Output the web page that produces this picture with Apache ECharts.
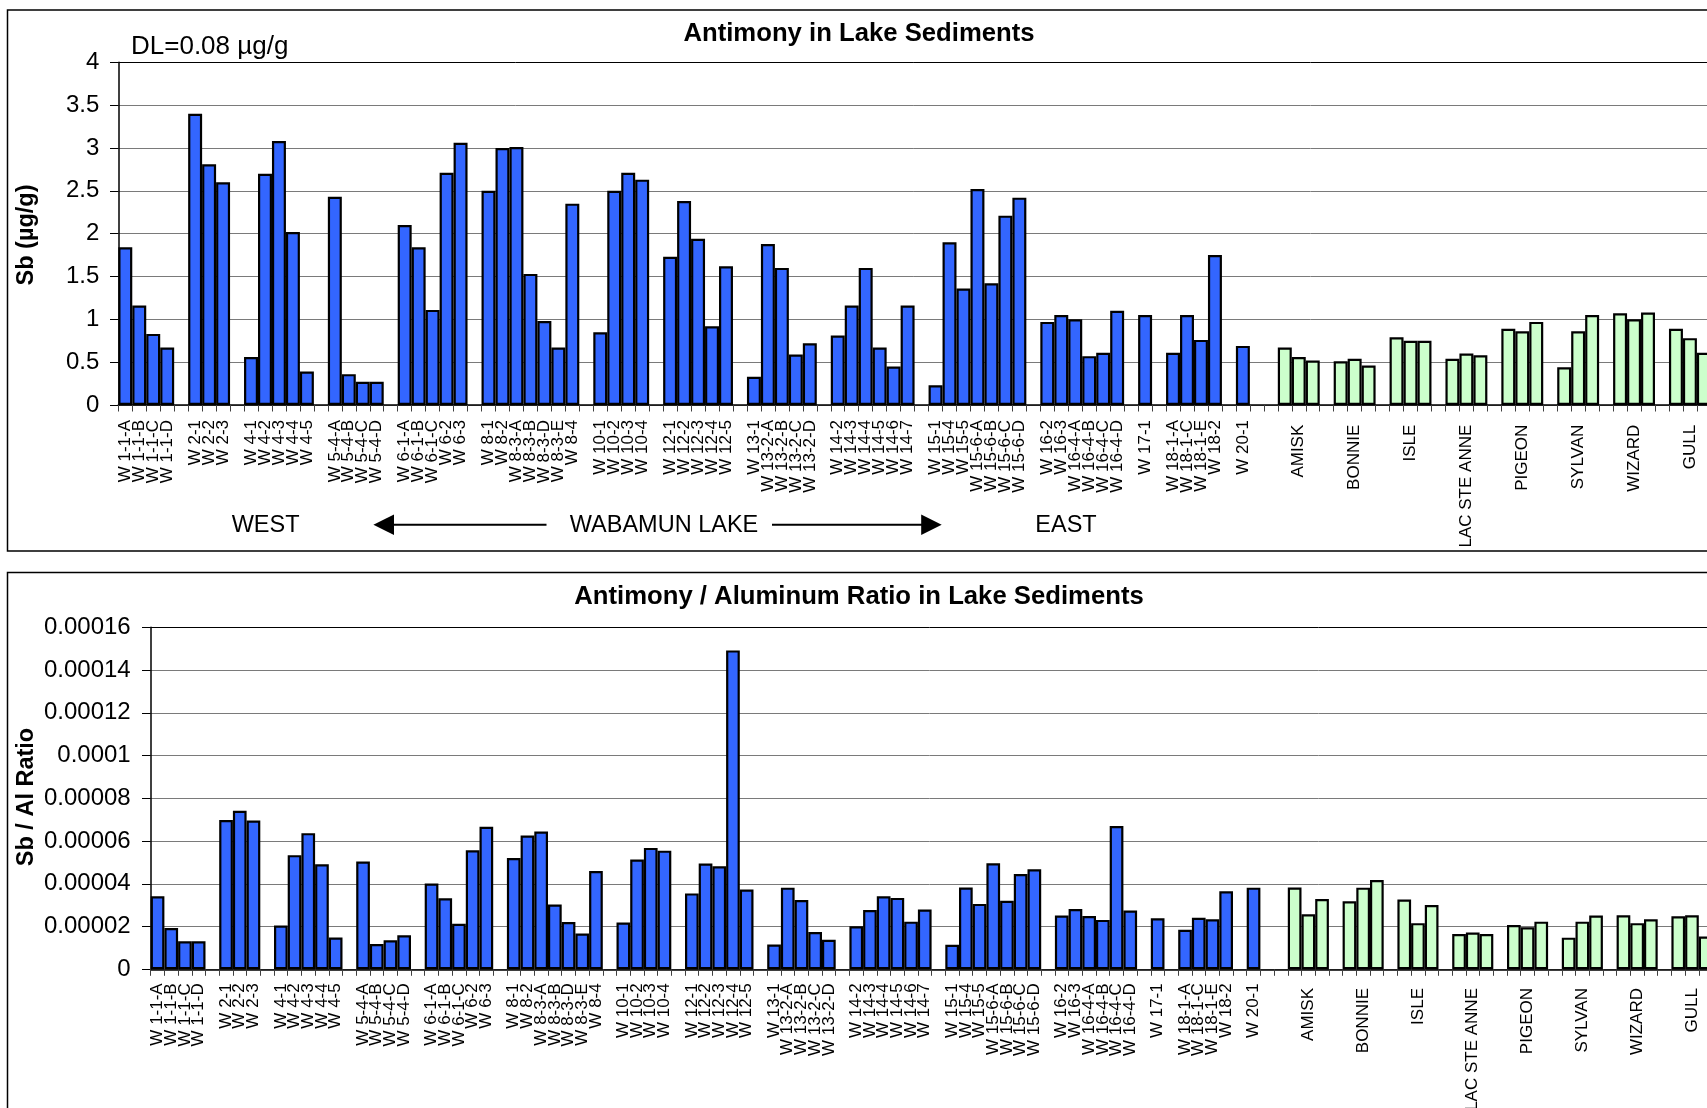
<!DOCTYPE html>
<html>
<head>
<meta charset="utf-8">
<title>Antimony in Lake Sediments</title>
<script src="https://cdn.jsdelivr.net/npm/echarts@6/dist/echarts.min.js"></script>
<style>
  html, body { margin: 0; padding: 0; background: #fff; overflow: hidden; }
  #chart { width: 1707px; height: 1108px; }
</style>
</head>
<body>
<div id="chart"></div>
<script>
// Wabamun Lake stations, west to east (one sub-array per station)
const siteGroups = [
  ['W 1-1-A', 'W 1-1-B', 'W 1-1-C', 'W 1-1-D'],
  ['W 2-1', 'W 2-2', 'W 2-3'],
  ['W 4-1', 'W 4-2', 'W 4-3', 'W 4-4', 'W 4-5'],
  ['W 5-4-A', 'W 5-4-B', 'W 5-4-C', 'W 5-4-D'],
  ['W 6-1-A', 'W 6-1-B', 'W 6-1-C', 'W 6-2', 'W 6-3'],
  ['W 8-1', 'W 8-2', 'W 8-3-A', 'W 8-3-B', 'W 8-3-D', 'W 8-3-E', 'W 8-4'],
  ['W 10-1', 'W 10-2', 'W 10-3', 'W 10-4'],
  ['W 12-1', 'W 12-2', 'W 12-3', 'W 12-4', 'W 12-5'],
  ['W 13-1', 'W 13-2-A', 'W 13-2-B', 'W 13-2-C', 'W 13-2-D'],
  ['W 14-2', 'W 14-3', 'W 14-4', 'W 14-5', 'W 14-6', 'W 14-7'],
  ['W 15-1', 'W 15-4', 'W 15-5', 'W 15-6-A', 'W 15-6-B', 'W 15-6-C', 'W 15-6-D'],
  ['W 16-2', 'W 16-3', 'W 16-4-A', 'W 16-4-B', 'W 16-4-C', 'W 16-4-D'],
  ['W 17-1'],
  ['W 18-1-A', 'W 18-1-C', 'W 18-1-E', 'W 18-2'],
  ['W 20-1']
];

// Sb concentration (µg/g) at each Wabamun station
const sbSites = [
  [1.84, 1.16, 0.83, 0.67],
  [3.40, 2.81, 2.60],
  [0.56, 2.70, 3.08, 2.02, 0.39],
  [2.43, 0.36, 0.27, 0.27],
  [2.10, 1.84, 1.11, 2.71, 3.06],
  [2.50, 3.00, 3.01, 1.53, 0.98, 0.67, 2.35],
  [0.85, 2.50, 2.71, 2.63],
  [1.73, 2.38, 1.94, 0.92, 1.62],
  [0.33, 1.88, 1.60, 0.59, 0.72],
  [0.81, 1.16, 1.60, 0.67, 0.45, 1.16],
  [0.23, 1.90, 1.36, 2.52, 1.42, 2.21, 2.42],
  [0.97, 1.05, 1.00, 0.57, 0.61, 1.10],
  [1.05],
  [0.61, 1.05, 0.76, 1.75],
  [0.69]
];

// Sb / Al ratio at each Wabamun station
const ratioSites = [
  [3.42e-5, 1.93e-5, 1.31e-5, 1.31e-5],
  [6.98e-5, 7.42e-5, 6.96e-5],
  [2.05e-5, 5.34e-5, 6.37e-5, 4.91e-5, 1.49e-5],
  [5.04e-5, 1.18e-5, 1.36e-5, 1.59e-5],
  [4.01e-5, 3.32e-5, 2.13e-5, 5.57e-5, 6.67e-5],
  [5.21e-5, 6.26e-5, 6.45e-5, 3.03e-5, 2.21e-5, 1.67e-5, 4.60e-5],
  [2.19e-5, 5.14e-5, 5.68e-5, 5.55e-5],
  [3.55e-5, 4.95e-5, 4.82e-5, 14.92e-5, 3.73e-5],
  [1.16e-5, 3.82e-5, 3.24e-5, 1.74e-5, 1.38e-5],
  [2.01e-5, 2.77e-5, 3.42e-5, 3.34e-5, 2.23e-5, 2.80e-5],
  [1.15e-5, 3.83e-5, 3.06e-5, 4.96e-5, 3.21e-5, 4.46e-5, 4.68e-5],
  [2.52e-5, 2.82e-5, 2.49e-5, 2.31e-5, 6.70e-5, 2.75e-5],
  [2.39e-5],
  [1.85e-5, 2.41e-5, 2.34e-5, 3.65e-5],
  [3.82e-5]
];

// Reference lakes, three cores each
const lakeNames = ['AMISK', 'BONNIE', 'ISLE', 'LAC STE ANNE', 'PIGEON', 'SYLVAN', 'WIZARD', 'GULL'];

const sbLakes = [
  [0.67, 0.56, 0.52],
  [0.51, 0.54, 0.46],
  [0.79, 0.75, 0.75],
  [0.54, 0.60, 0.58],
  [0.89, 0.86, 0.97],
  [0.44, 0.86, 1.05],
  [1.07, 1.00, 1.08],
  [0.89, 0.78, 0.61]
];

const ratioLakes = [
  [3.83e-5, 2.57e-5, 3.29e-5],
  [3.18e-5, 3.82e-5, 4.18e-5],
  [3.26e-5, 2.16e-5, 3.01e-5],
  [1.65e-5, 1.72e-5, 1.65e-5],
  [2.07e-5, 1.97e-5, 2.23e-5],
  [1.48e-5, 2.23e-5, 2.52e-5],
  [2.53e-5, 2.16e-5, 2.34e-5],
  [2.48e-5, 2.53e-5, 1.53e-5]
];

// Value-axis tick labels
const sbTicks = ['0', '0.5', '1', '1.5', '2', '2.5', '3', '3.5', '4'];
const ratioTicks = ['0', '0.00002', '0.00004', '0.00006', '0.00008', '0.0001', '0.00012', '0.00014', '0.00016'];

const FONT = '"Liberation Sans", Arial, Helvetica, sans-serif';
const BLUE = '#3366FF';
const GREEN = '#CCFFCC';

// Build one category per bar, with empty slots separating stations
const categories = [];
const sbData = [];
const ratioData = [];
function addGap() {
  categories.push('');
  sbData.push('-');
  ratioData.push('-');
}
siteGroups.forEach((group, gi) => {
  if (gi > 0) addGap();
  group.forEach((name, i) => {
    categories.push(name);
    sbData.push({ value: sbSites[gi][i], itemStyle: { color: BLUE } });
    ratioData.push({ value: ratioSites[gi][i], itemStyle: { color: BLUE } });
  });
});
addGap();
addGap();
lakeNames.forEach((lake, li) => {
  if (li > 0) addGap();
  for (let k = 0; k < 3; k++) {
    categories.push(k === 1 ? lake : '');
    sbData.push({ value: sbLakes[li][k], itemStyle: { color: GREEN } });
    ratioData.push({ value: ratioLakes[li][k], itemStyle: { color: GREEN } });
  }
});

const N = categories.length;

function gridLineColors(n) {
  const c = [];
  for (let i = 0; i < n; i++) c.push(i === n - 1 ? '#000000' : '#7a7a7a');
  return c;
}

function xAxisFor(gridIndex, margin) {
  return {
    type: 'category',
    gridIndex: gridIndex,
    data: categories,
    boundaryGap: true,
    axisLine: { show: true, lineStyle: { color: '#000', width: 1.5 } },
    axisTick: { show: true, interval: 0, alignWithLabel: false, length: 6.5,
                lineStyle: { color: '#404040', width: 1 } },
    axisLabel: {
      interval: 0, rotate: 90, margin: margin, hideOverlap: false,
      color: '#000', fontSize: 17, fontFamily: FONT,
      formatter: (v) => (lakeNames.indexOf(v) >= 0 ? v + ' ' : v)
    },
    splitLine: { show: false }
  };
}

const option = {
  animation: false,
  backgroundColor: '#ffffff',
  grid: [
    { left: 118.3, top: 62.3, width: 13.97 * N, height: 342.7, outerBoundsMode: 'none', containLabel: false },
    { left: 150.7, top: 627.3, width: 13.70 * N, height: 342, outerBoundsMode: 'none', containLabel: false }
  ],
  xAxis: [xAxisFor(0, 15), xAxisFor(1, 14)],
  yAxis: [
    {
      type: 'value', gridIndex: 0, min: 0, max: 4, interval: 0.5,
      axisLine: { show: true, lineStyle: { color: '#000', width: 1.5 } },
      axisTick: { show: true, length: 8.3, lineStyle: { color: '#000', width: 1 } },
      axisLabel: {
        color: '#000', fontSize: 24, fontFamily: FONT, margin: 19,
        formatter: (v) => sbTicks[Math.round(v / 0.5)]
      },
      splitLine: { show: true, lineStyle: { color: gridLineColors(sbTicks.length), width: 1 } }
    },
    {
      type: 'value', gridIndex: 1, min: 0, max: 0.00016, interval: 0.00002,
      axisLine: { show: true, lineStyle: { color: '#000', width: 1.5 } },
      axisTick: { show: true, length: 8.7, lineStyle: { color: '#000', width: 1 } },
      axisLabel: {
        color: '#000', fontSize: 24, fontFamily: FONT, margin: 20,
        formatter: (v) => ratioTicks[Math.round(v / 0.00002)]
      },
      splitLine: { show: true, lineStyle: { color: gridLineColors(ratioTicks.length), width: 1 } }
    }
  ],
  series: [
    {
      type: 'bar', xAxisIndex: 0, yAxisIndex: 0, data: sbData,
      barWidth: '100%', barCategoryGap: '0%',
      itemStyle: { borderColor: '#000', borderWidth: 2.2 },
      emphasis: { disabled: true }
    },
    {
      type: 'bar', xAxisIndex: 1, yAxisIndex: 1, data: ratioData,
      barWidth: '100%', barCategoryGap: '0%',
      itemStyle: { borderColor: '#000', borderWidth: 2.2 },
      emphasis: { disabled: true }
    }
  ],
  graphic: [
    // outer chart frames
    { type: 'rect', silent: true, z: 0,
      shape: { x: 7.5, y: 10, width: 1760, height: 541 },
      style: { fill: 'none', stroke: '#000', lineWidth: 1.5 } },
    { type: 'rect', silent: true, z: 0,
      shape: { x: 7.5, y: 572.5, width: 1760, height: 600 },
      style: { fill: 'none', stroke: '#000', lineWidth: 1.5 } },

    // titles
    { type: 'text', silent: true, x: 859, y: 34,
      style: { text: 'Antimony in Lake Sediments', fill: '#000', align: 'center', verticalAlign: 'middle',
               fontSize: 25.7, fontWeight: 'bold', fontFamily: FONT } },
    { type: 'text', silent: true, x: 859, y: 596.5,
      style: { text: 'Antimony / Aluminum Ratio in Lake Sediments', fill: '#000', align: 'center', verticalAlign: 'middle',
               fontSize: 25.7, fontWeight: 'bold', fontFamily: FONT } },

    // detection limit note
    { type: 'text', silent: true, x: 131, y: 47,
      style: { text: 'DL=0.08 µg/g', fill: '#000', align: 'left', verticalAlign: 'middle',
               fontSize: 26, fontFamily: FONT } },

    // y-axis names
    { type: 'text', silent: true, x: 27, y: 235, rotation: Math.PI / 2,
      style: { text: 'Sb (µg/g)', fill: '#000', align: 'center', verticalAlign: 'middle',
               fontSize: 23.5, fontWeight: 'bold', fontFamily: FONT } },
    { type: 'text', silent: true, x: 27, y: 797, rotation: Math.PI / 2,
      style: { text: 'Sb / Al Ratio', fill: '#000', align: 'center', verticalAlign: 'middle',
               fontSize: 23.5, fontWeight: 'bold', fontFamily: FONT } },

    // west / east orientation along the lake
    { type: 'text', silent: true, x: 265.6, y: 526,
      style: { text: 'WEST', fill: '#000', align: 'center', verticalAlign: 'middle', fontSize: 23.5, fontFamily: FONT } },
    { type: 'text', silent: true, x: 664, y: 526,
      style: { text: 'WABAMUN LAKE', fill: '#000', align: 'center', verticalAlign: 'middle', fontSize: 23.5, fontFamily: FONT } },
    { type: 'text', silent: true, x: 1066, y: 526,
      style: { text: 'EAST', fill: '#000', align: 'center', verticalAlign: 'middle', fontSize: 23.5, fontFamily: FONT } },
    { type: 'line', silent: true,
      shape: { x1: 392, y1: 524.8, x2: 546.5, y2: 524.8 },
      style: { stroke: '#000', lineWidth: 2 } },
    { type: 'polygon', silent: true,
      shape: { points: [[373.4, 524.8], [394, 514.5], [394, 535.1]] },
      style: { fill: '#000' } },
    { type: 'line', silent: true,
      shape: { x1: 772, y1: 524.8, x2: 923, y2: 524.8 },
      style: { stroke: '#000', lineWidth: 2 } },
    { type: 'polygon', silent: true,
      shape: { points: [[941.7, 524.8], [921.2, 514.5], [921.2, 535.1]] },
      style: { fill: '#000' } }
  ]
};

const chart = echarts.init(document.getElementById('chart'), null, { renderer: 'canvas' });
chart.setOption(option);
</script>
</body>
</html>
